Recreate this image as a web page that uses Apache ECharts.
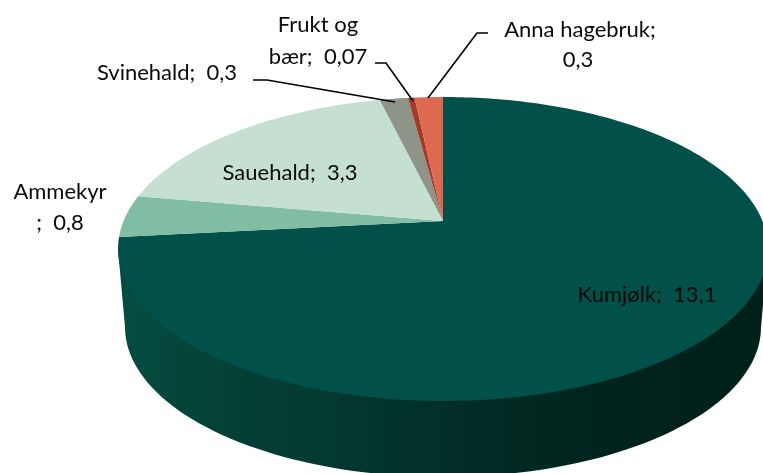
<!DOCTYPE html>
<html><head><meta charset="utf-8">
<style>html,body{margin:0;padding:0;background:#fff}#c{width:763px;height:473px}</style>
<script src="https://cdn.jsdelivr.net/npm/echarts@6/dist/echarts.min.js"></script>
</head><body><div id="c"></div>
<script>
const categories = ['Kumjølk', 'Ammekyr', 'Sauehald', 'Svinehald', 'Frukt og bær', 'Anna hagebruk'];
const values = [13.1, 0.8, 3.3, 0.3, 0.07, 0.3];
const sliceColors = ['#02504a', '#80bda2', '#c5dfd3', '#8f9488', '#a33c26', '#dd6a50'];
const labelLines = [
  [{t:'Kumjølk;  13,1', x:647, y:295}],
  [{t:'Ammekyr', x:60, y:192}, {t:';  0,8', x:60, y:223}],
  [{t:'Sauehald;  3,3', x:290, y:173}],
  [{t:'Svinehald;  0,3', x:167, y:73}],
  [{t:'Frukt og', x:318, y:25}, {t:'bær;  0,07', x:318, y:57}],
  [{t:'Anna hagebruk;', x:580, y:30}, {t:'0,3', x:578, y:60}]
];
const leaders = [null, null, null,
  [[253,80],[267,80],[395,102]],
  [[375,63],[386,63],[413,101]],
  [[488,33],[477,33],[428,98]]
];

// top ellipse with perspective-shifted centre
const E = {cx:443, cy:249, rx:325, ry:152, a:28/152};
// bottom rim ellipse
const B = {cx:443, cy:327, rx:318, ry:150};
const total = values.reduce((s,v)=>s+v,0);
function rim(deg){
  const t = deg*Math.PI/180, u = Math.sin(t), v = Math.cos(t), a = E.a;
  const d = 1 + a*v;
  return [E.cx + E.rx*u*Math.sqrt(1-a*a)/d, E.cy - E.ry*(v+a)/d];
}
const apex = [E.cx, E.cy - E.ry*E.a];
function sliceItem(params){
  const i = params.dataIndex;
  let start = 0;
  for(let k=0;k<i;k++) start += values[k];
  const s = start/total*360, e = (start+values[i])/total*360;
  const pts = [apex];
  const n = Math.max(2, Math.ceil((e-s)));
  for(let k=0;k<=n;k++) pts.push(rim(s+(e-s)*k/n));
  return {type:'polygon', shape:{points:pts}, style:{fill:sliceColors[i]}};
}
function bodyItem(){
  const pts = [];
  pts.push([E.cx-E.rx, E.cy]);
  for(let d=180;d>=0;d-=2){
    const t=d*Math.PI/180;
    pts.push([B.cx+B.rx*Math.cos(t), B.cy+B.ry*Math.sin(t)]);
  }
  pts.push([E.cx+E.rx, E.cy]);
  return {type:'polygon', shape:{points:pts}, style:{fill:new echarts.graphic.LinearGradient(0,0,1,0,[
    {offset:0,color:'#054c40'},{offset:0.2,color:'#043f35'},{offset:0.5,color:'#022f28'},{offset:0.75,color:'#00231c'},{offset:1,color:'#00201a'}
  ])}};
}
function labelItem(params){
  const i = params.dataIndex, children = [];
  if(leaders[i]) children.push({type:'polyline', shape:{points:leaders[i]}, style:{fill:null, stroke:'#000', lineWidth:1.6}});
  labelLines[i].forEach(l=>children.push({type:'text', x:l.x, y:l.y, style:{text:l.t, fill:'#0a0a0a', font:'22px Lato', align:'center', verticalAlign:'middle'}}));
  return {type:'group', children};
}
const chart = echarts.init(document.getElementById('c'), null, {renderer:'canvas'});
const seriesData = categories.map((c,i)=>({name:c, value:values[i]}));
chart.setOption({
  animation:false,
  series:[
    {type:'custom', coordinateSystem:'none', silent:true, data:[total], renderItem:bodyItem, z:1},
    {type:'custom', coordinateSystem:'none', silent:true, data:seriesData, renderItem:sliceItem, z:2},
    {type:'custom', coordinateSystem:'none', silent:true, data:seriesData, renderItem:labelItem, z:3}
  ]
});
// the reference text is loosely tracked
const cv = document.querySelector('#c canvas');
if(cv){ cv.getContext('2d').letterSpacing='1.1px'; chart.getZr().refreshImmediately(); }
</script></body></html>
